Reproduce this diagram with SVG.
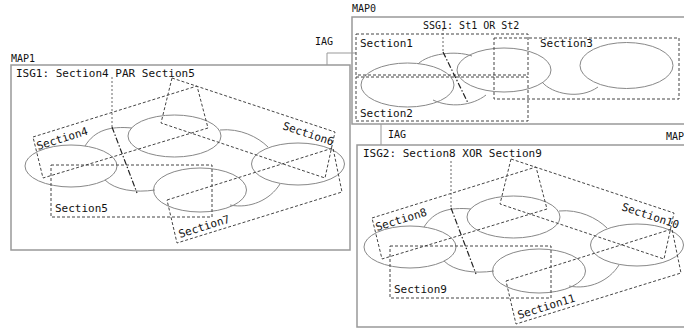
<svg xmlns="http://www.w3.org/2000/svg" width="684" height="329" viewBox="0 0 684 329">
<style>
text{font-family:"DejaVu Sans Mono","Liberation Mono",monospace;fill:#111}
.lbl{font-size:10px}
.t{font-size:11px}
.box{fill:none;stroke:#999;stroke-width:1.5}
.el{fill:none;stroke:#888;stroke-width:1}
.sec{fill:none;stroke:#444;stroke-width:1;stroke-dasharray:3 2}
.dot{fill:none;stroke:#666;stroke-width:1;stroke-dasharray:2 2}
.dd{fill:none;stroke:#222;stroke-width:1.2;stroke-dasharray:6 2 1.5 2}
.con{fill:none;stroke:#999;stroke-width:1}
</style>
<rect width="684" height="329" fill="#fff"/>

<g id="connectors">
<polyline class="con" points="327,65 327,53 356,53"/>
<line class="con" x1="381" y1="124" x2="381" y2="145"/>
<text class="lbl" x="315" y="45">IAG</text>
<text class="lbl" x="388" y="138">IAG</text>
</g>

<g id="map0">
<text class="lbl" x="352" y="12">MAP0</text>
<rect class="box" x="352" y="17" width="360" height="107"/>
<text class="lbl" x="423" y="29">SSG1: St1 OR St2</text>
<g id="map0-shapes">
<ellipse class="el" cx="407.5" cy="85" rx="46.5" ry="22"/>
<ellipse class="el" cx="504" cy="70" rx="47" ry="22"/>
<ellipse class="el" cx="626.5" cy="65.5" rx="46.5" ry="23"/>
<path class="el" d="M418,64 C428,54 455,50 472,56"/>
<path class="el" d="M433,100 C450,108 472,106 486,95"/>
<path class="el" d="M542,82 C552,94 580,100 598,87"/>
</g>
<g id="section1"><rect class="sec" x="356" y="34" width="172" height="41"/><text class="t" x="360" y="47">Section1</text></g>
<g id="section2"><rect class="sec" x="356" y="77" width="172" height="44"/><text class="t" x="360" y="117">Section2</text></g>
<g id="section3"><rect class="sec" x="494" y="38" width="185" height="61"/><text class="t" x="540" y="47">Section3</text></g>
<g id="ssg1-split">
<line class="dot" x1="443" y1="29" x2="443" y2="52"/>
<line class="dd" x1="443" y1="52" x2="468" y2="103"/>
</g>
</g>

<g id="map1">
<text class="lbl" x="11" y="62">MAP1</text>
<rect class="box" x="11" y="65" width="339" height="185"/>
<text class="t" x="16" y="77">ISG1: Section4 PAR Section5</text>
<g id="map1-shapes">
<ellipse class="el" cx="71" cy="166" rx="46" ry="21"/>
<ellipse class="el" cx="174.5" cy="136" rx="46.5" ry="21"/>
<ellipse class="el" cx="298" cy="164" rx="46.5" ry="21"/>
<ellipse class="el" cx="200" cy="190" rx="46.5" ry="22"/>
<path class="el" d="M85,146 C95,130 110,126 132,128"/>
<path class="el" d="M220,130 C240,128 258,137 268,147"/>
<path class="el" d="M105,180 C115,190 135,193 155,190"/>
<path class="el" d="M230,205 C250,209 270,200 280,184"/>
</g>
<g id="section4"><polygon class="sec" points="33,137 197,86 208,128 43,178"/><text class="t" transform="translate(38,150) rotate(-17.3)">Section4</text></g>
<g id="section6"><polygon class="sec" points="172,78 335,132 325,178 161,123"/><text class="t" transform="translate(282,129) rotate(18.3)">Section6</text></g>
<g id="section7"><polygon class="sec" points="167,200 333,148 342,192 177,243"/><text class="t" transform="translate(180,238) rotate(-17.4)">Section7</text></g>
<g id="section5"><rect class="sec" x="51" y="165" width="161" height="52"/><text class="t" x="55" y="212">Section5</text></g>
<g id="isg1-split">
<line class="dot" x1="112" y1="77" x2="112" y2="127"/>
<line class="dd" x1="112" y1="127" x2="137" y2="193"/>
</g>
</g>

<g id="map2">
<text class="lbl" x="666" y="140">MAP</text>
<rect class="box" x="357" y="145" width="339" height="182"/>
<text class="t" x="363" y="157">ISG2: Section8 XOR Section9</text>
<g transform="translate(339,81)">
<g id="map2-shapes">
<ellipse class="el" cx="71" cy="166" rx="46" ry="21"/>
<ellipse class="el" cx="174.5" cy="136" rx="46.5" ry="21"/>
<ellipse class="el" cx="298" cy="164" rx="46.5" ry="21"/>
<ellipse class="el" cx="200" cy="190" rx="46.5" ry="22"/>
<path class="el" d="M85,146 C95,130 110,126 132,128"/>
<path class="el" d="M220,130 C240,128 258,137 268,147"/>
<path class="el" d="M105,180 C115,190 135,193 155,190"/>
<path class="el" d="M230,205 C250,209 270,200 280,184"/>
</g>
<g id="section8"><polygon class="sec" points="33,137 197,86 208,128 43,178"/><text class="t" transform="translate(38,150) rotate(-17.3)">Section8</text></g>
<g id="section10"><polygon class="sec" points="172,78 335,132 325,178 161,123"/><text class="t" transform="translate(282,129) rotate(18.3)">Section10</text></g>
<g id="section11"><polygon class="sec" points="167,200 333,148 342,192 177,243"/><text class="t" transform="translate(180,238) rotate(-17.4)">Section11</text></g>
<g id="section9"><rect class="sec" x="51" y="165" width="161" height="52"/><text class="t" x="55" y="212">Section9</text></g>
<g id="isg2-split">
<line class="dot" x1="112" y1="80" x2="112" y2="127"/>
<line class="dd" x1="112" y1="127" x2="137" y2="193"/>
</g>
</g>
</g>
</svg>
